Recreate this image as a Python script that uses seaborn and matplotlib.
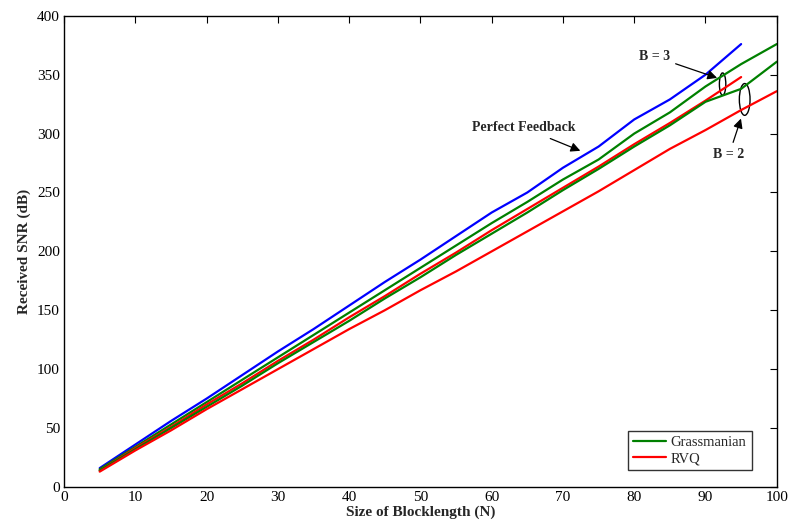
import numpy as np
import pandas as pd
import matplotlib
matplotlib.use('Agg')
import matplotlib.pyplot as plt
from matplotlib.patches import Ellipse
import seaborn as sns

# data
N = [5, 10, 15, 20, 25, 30, 35, 40, 45, 50, 55, 60, 65, 70, 75, 80, 85, 90, 95, 100]
perfect = [16, 36, 56, 75, 95, 115, 134, 154, 174, 193, 213, 233, 250, 271, 289, 312, 329, 350, 376]
grass_b3 = [15, 34, 53, 72, 91, 110, 129, 148, 167, 186, 205, 224, 242, 261, 278, 300, 318, 340, 359, 376]
rvq_b3 = [14, 33, 51, 70, 88, 107, 125, 144, 162, 181, 199, 218, 236, 254, 272, 291, 309, 328, 348]
grass_b2 = [14, 32, 50, 68, 86, 105, 123, 141, 160, 178, 197, 215, 233, 252, 270, 289, 307, 327, 338, 361]
rvq_b2 = [13, 31, 48, 66, 83, 100, 117, 134, 150, 167, 183, 200, 217, 234, 251, 269, 287, 303, 320, 336]

sns.set_style("white")
plt.rcParams['font.family'] = ['Liberation Serif', 'DejaVu Serif']
plt.rcParams['xtick.direction'] = 'in'
plt.rcParams['ytick.direction'] = 'in'

fig = plt.figure(figsize=(7.91, 5.27), dpi=100)
ax = fig.add_axes([0.081, 0.076, 0.901, 0.894])

lw = 1.6
sns.lineplot(x=N[:len(perfect)], y=perfect, color='#0000ff', lw=lw, ax=ax, label='_nolegend_')
sns.lineplot(x=N, y=grass_b3, color='#008000', lw=lw, ax=ax, label='Grassmanian')
sns.lineplot(x=N[:len(rvq_b3)], y=rvq_b3, color='#ff0000', lw=lw, ax=ax, label='RVQ')
sns.lineplot(x=N, y=grass_b2, color='#008000', lw=lw, ax=ax, label='_nolegend_')
sns.lineplot(x=N, y=rvq_b2, color='#ff0000', lw=lw, ax=ax, label='_nolegend_')

ax.set_xlim(0, 100)
ax.set_ylim(0, 400)
ax.set_xticks(range(0, 101, 10))
ax.set_yticks(range(0, 401, 50))
ax.tick_params(axis='both', which='both', top=True, right=True, length=5, width=0.8,
               labelsize=11, colors='black', pad=3)
for s in ax.spines.values():
    s.set_color('black')
    s.set_linewidth(1.0)

ax.set_xlabel('Size of Blocklength (N)', fontsize=11, fontweight='bold', labelpad=1)
ax.set_ylabel('Received SNR (dB)', fontsize=11, fontweight='bold', labelpad=4)

# annotations
akw = dict(arrowstyle='-|>', color='black', lw=0.9, mutation_scale=14)
ax.annotate('Perfect Feedback', xy=(72.8, 284.5), xytext=(64.5, 305), fontsize=10,
            fontweight='bold', ha='center', va='center', arrowprops=akw)
ax.annotate('B = 3', xy=(92.0, 346.5), xytext=(82.8, 365.5), fontsize=10,
            fontweight='bold', ha='center', va='center', arrowprops=akw)
ax.annotate('B = 2', xy=(95.1, 315), xytext=(93.3, 282), fontsize=10,
            fontweight='bold', ha='center', va='center', arrowprops=akw)
ax.add_patch(Ellipse((92.4, 342), 0.9, 19, fill=False, color='black', lw=1.0))
ax.add_patch(Ellipse((95.5, 329), 1.5, 27, fill=False, color='black', lw=1.0))

leg = ax.legend(loc='lower right', bbox_to_anchor=(0.975, 0.02), fontsize=10.5, frameon=True,
                fancybox=False, edgecolor='black', handlelength=2.3, borderpad=0.35,
                labelspacing=0.2, handletextpad=0.3)
leg.get_frame().set_linewidth(1.0)

plt.savefig('out.png', dpi=100)
